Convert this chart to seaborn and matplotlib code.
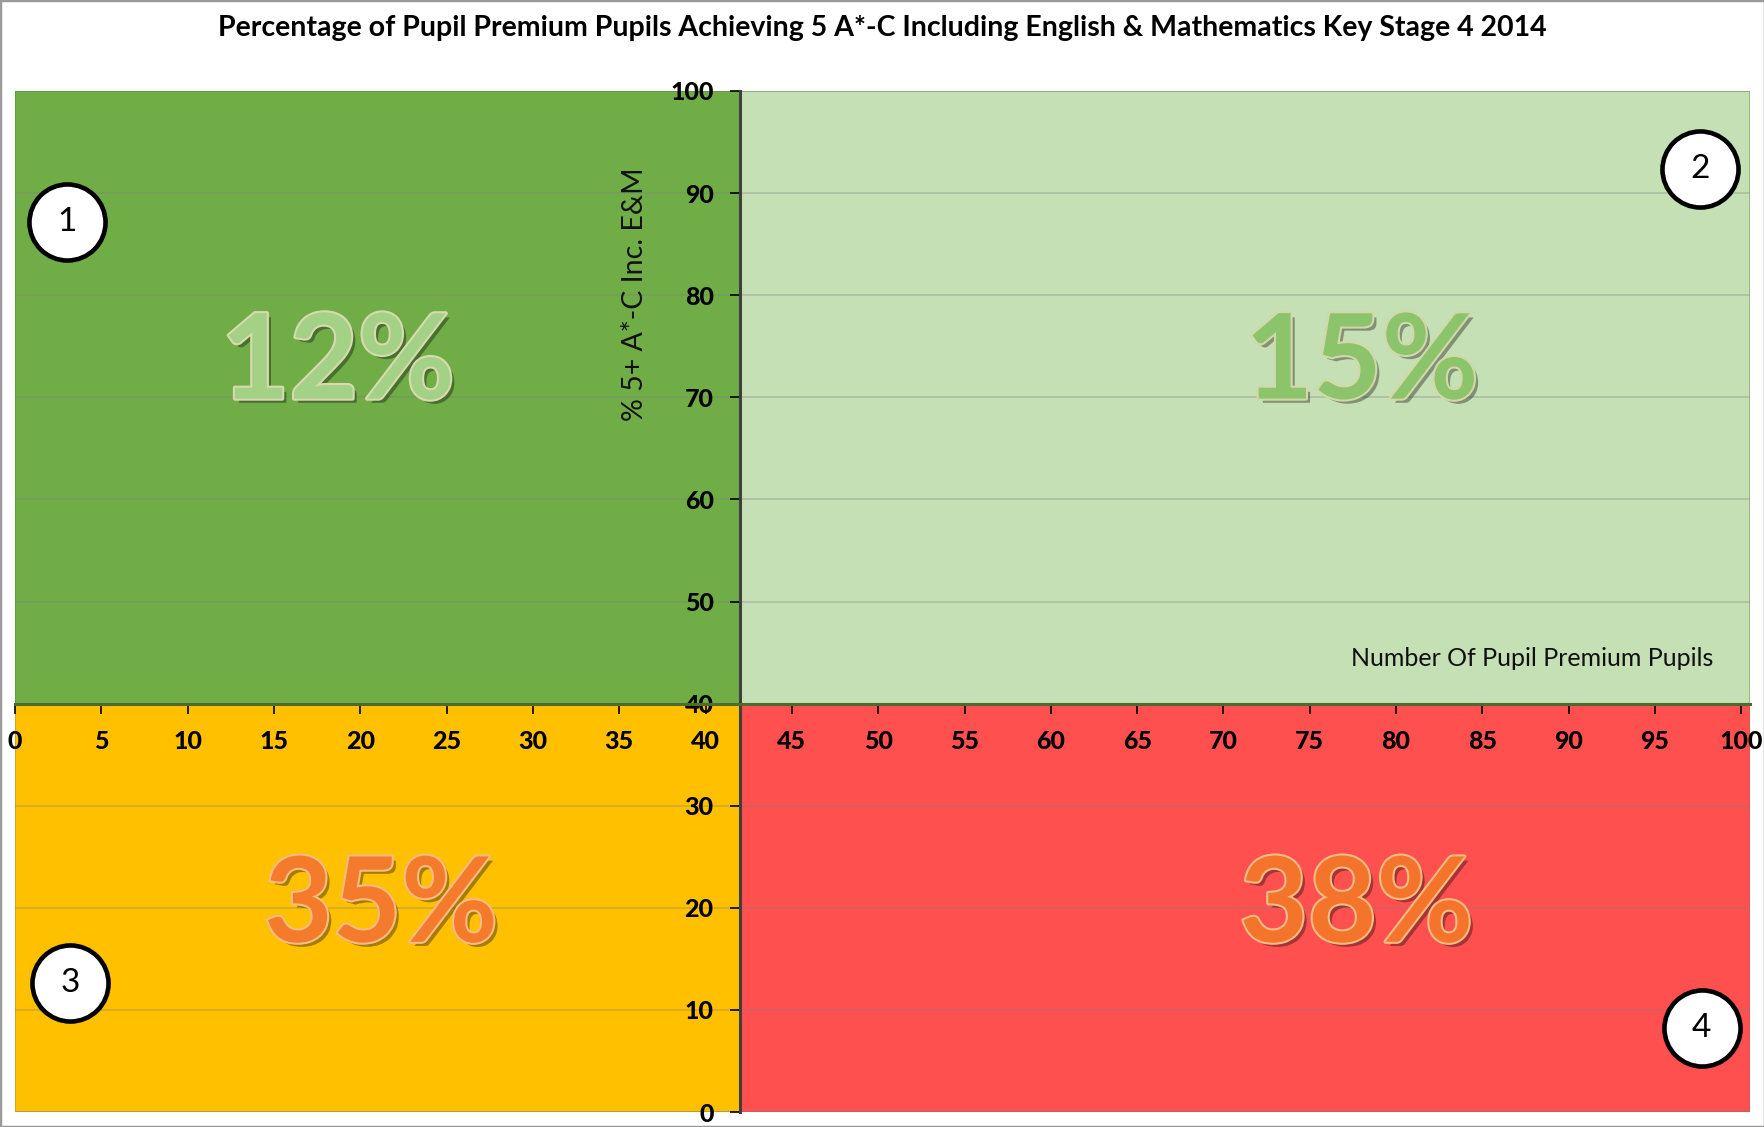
import matplotlib
matplotlib.use("Agg")
import matplotlib.pyplot as plt
import matplotlib.patheffects as pe
from matplotlib.patches import Rectangle
import seaborn as sns
import pandas as pd

# ---- data -------------------------------------------------------------
quadrant_ids = [1, 2, 3, 4]
quadrant_share = [12, 15, 35, 38]          # % of schools in each quadrant
split_pupils = 42                           # quadrant boundary on x
split_attain = 40                           # quadrant boundary on y
x_ticks = list(range(0, 101, 5))
y_ticks = list(range(0, 101, 10))

title = ("Percentage of Pupil Premium Pupils Achieving 5 A*-C Including "
         "English & Mathematics Key Stage 4 2014")
x_label = "Number Of Pupil Premium Pupils"
y_label = "% 5+ A*-C Inc. E&M"

# ---- styling -----------------------------------------------------------
sns.set_theme(style="white")
FONT = "Lato"
plt.rcParams["font.family"] = [FONT, "DejaVu Sans"]

fill = {1: "#70AD47", 2: "#C5E0B4", 3: "#FFC000", 4: "#FF5050"}
edge = {1: "#5E9A3A", 2: "#8DB776", 3: "#C9A227", 4: "#D9545A"}
text_fill = {1: "#A3D287", 2: "#8CC46C", 3: "#F47B2C", 4: "#F3742A"}
text_edge = {1: "#D8D9AE", 2: "#D3D8A8", 3: "#F9BC82", 4: "#F9BC82"}
# label anchor (x, y) and badge anchor (x, y) in data units
label_at = {1: (18.7, 73.2), 2: (78.0, 73.2), 3: (21.2, 20.0), 4: (77.7, 20.0)}
badge_at = {1: (3.0, 87.2), 2: (97.6, 92.4), 3: (3.2, 12.6), 4: (97.7, 8.2)}

fig = plt.figure(figsize=(17.65, 11.27), dpi=100)
fig.patch.set_facecolor("white")
ax = fig.add_axes([15 / 1765, 15 / 1127, 1735 / 1765, 1021 / 1127])
ax.set_xlim(0, 100.5)
ax.set_ylim(0, 100)
ax.set_facecolor("white")

# quadrant backgrounds
x0, x1 = ax.get_xlim()
y0, y1 = ax.get_ylim()
bounds = {
    1: (x0, split_attain, split_pupils - x0, y1 - split_attain),
    2: (split_pupils, split_attain, x1 - split_pupils, y1 - split_attain),
    3: (x0, y0, split_pupils - x0, split_attain - y0),
    4: (split_pupils, y0, x1 - split_pupils, split_attain - y0),
}
for q in quadrant_ids:
    bx, by, bw, bh = bounds[q]
    ax.add_patch(Rectangle((bx, by), bw, bh, facecolor=fill[q],
                           edgecolor=edge[q], linewidth=1.2, zorder=0.1))

# gridlines
ax.set_axisbelow(True)
ax.yaxis.grid(True, color="#7f7f7f", alpha=0.35, linewidth=1.2)
ax.xaxis.grid(False)

# axes crossing at the quadrant split
for s in ("top", "right"):
    ax.spines[s].set_visible(False)
ax.spines["left"].set_position(("data", split_pupils))
ax.spines["bottom"].set_position(("data", split_attain))
ax.spines["left"].set_color("#3f3f3f")
ax.spines["left"].set_linewidth(2.2)
ax.spines["bottom"].set_color("#4E6B2E")
ax.spines["bottom"].set_linewidth(2.2)
ax.spines["left"].set_zorder(3)
ax.spines["bottom"].set_zorder(3)

ax.set_xticks(x_ticks)
ax.set_yticks(y_ticks)
ax.tick_params(axis="x", direction="out", length=7, width=1.2, pad=12,
               labelsize=18, colors="black", bottom=True)
ax.tick_params(axis="y", direction="out", length=7, width=1.2, pad=12,
               labelsize=18, colors="black", left=True)
for lbl in ax.get_xticklabels() + ax.get_yticklabels():
    lbl.set_fontweight("black")

# big quadrant percentages
for q, share in zip(quadrant_ids, quadrant_share):
    tx, ty = label_at[q]
    ax.text(tx, ty, f"{share}%", ha="center", va="center",
            fontsize=85, fontweight="bold", color=text_fill[q], zorder=4,
            path_effects=[
                pe.withSimplePatchShadow(offset=(3, -3), shadow_rgbFace="black",
                                         alpha=0.35),
                pe.Stroke(linewidth=3, foreground=text_edge[q]),
                pe.Normal(),
            ])

# numbered badges
badges = pd.DataFrame({
    "q": quadrant_ids,
    "x": [badge_at[q][0] for q in quadrant_ids],
    "y": [badge_at[q][1] for q in quadrant_ids],
})
sns.scatterplot(data=badges, x="x", y="y", s=3000, color="white",
                edgecolor="black", linewidth=3.3, legend=False, ax=ax,
                zorder=5, clip_on=False)
for _, r in badges.iterrows():
    ax.text(r["x"], r["y"], str(int(r["q"])), ha="center", va="center",
            fontsize=24, color="black", zorder=6)

ax.set_xlabel("")
ax.set_ylabel("")

# axis titles placed inside the plot area
ax.text(98.4, 44.4, x_label, ha="right", va="center", fontsize=18,
        color="#111111", zorder=4)
ax.text(35.9, 80.1, y_label, ha="center", va="center", rotation=90,
        fontsize=20.5, color="#111111", zorder=4)

fig.text(0.5, 1 - 28 / 1127, title, ha="center", va="center",
         fontsize=20.5, fontweight="bold", color="black")

# chart frame
fig.add_artist(Rectangle((0, 0), 1, 1, transform=fig.transFigure,
                         fill=False, edgecolor="#9a9a9a", linewidth=2.5))

fig.savefig("out.png", dpi=100, facecolor="white")
